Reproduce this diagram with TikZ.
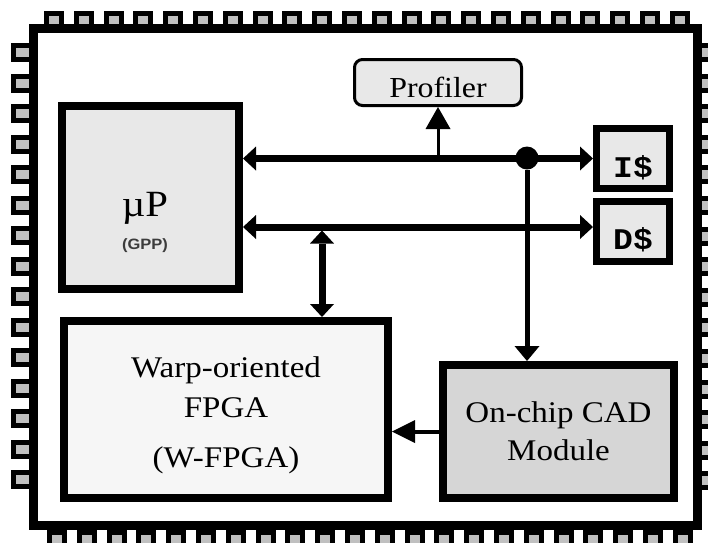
\documentclass[tikz,border=0pt]{standalone}
\usepackage{fontspec}
\setmainfont{Liberation Serif}[FakeStretch=1.1]
\newfontfamily\cachefont{Liberation Mono}[FakeStretch=1.1]
\newfontfamily\gppfont{Liberation Sans}[FakeStretch=1.1]
\usetikzlibrary{arrows.meta}
\definecolor{pingray}{RGB}{192,192,192}
\definecolor{boxgray}{RGB}{232,232,232}
\definecolor{fpgafill}{RGB}{246,246,246}
\definecolor{cadfill}{RGB}{214,214,214}
\definecolor{gppgray}{RGB}{60,60,60}

\begin{document}
\begin{tikzpicture}[x=1pt, y=-1pt,
        pin/.style={draw=black, fill=pingray, line width=5pt},
        block/.style={draw=black, line width=8pt, inner sep=0pt, align=center},
        cachebox/.style={draw=black, line width=7pt, fill=boxgray, inner sep=0pt,
            minimum width=73pt, minimum height=60pt, text height=37pt, text depth=0pt,
            font=\cachefont\bfseries\fontsize{30}{30}\selectfont},
        profbox/.style={draw=black, line width=3pt, rounded corners=8pt, fill=boxgray,
            inner sep=0pt, minimum width=167pt, minimum height=46pt,
            text height=29pt, text depth=0pt, font=\fontsize{29}{29}\selectfont},
        dot/.style={circle, fill=black, minimum size=23pt, inner sep=0pt},
        bus/.style={line width=7pt, >={Triangle[length=13pt,width=24pt,line width=0pt]}, <->},
        feed/.style={line width=5pt, -{Triangle[length=15pt,width=25pt,line width=0pt]}},
        probe/.style={line width=3pt, -{Triangle[length=22pt,width=25pt,line width=0pt]}},
        config/.style={line width=4pt, -{Triangle[length=23pt,width=23pt,line width=0pt]}}]
\useasboundingbox (0,0) rectangle (708,542);

% package pins
\foreach \i in {0,...,21} {
    \draw[pin] ({46.5+\i*29.8},13.5) rectangle +(15,20);
    \draw[pin] ({49.5+\i*29.8},532.5) rectangle +(15,20);
}
\foreach \i in {0,...,14} {
    \draw[pin] (13.5,{45.5+\i*30.5}) rectangle +(20,14);
    \draw[pin] (699.5,{45.5+\i*30.6}) rectangle +(20,14);
}
\draw[line width=9pt, fill=white] (33.5,28.5) rectangle (697.5,525.5);

% blocks
\node[block, fill=boxgray, minimum width=177pt, minimum height=183pt] (up) at (150.5,197.5) {};
\node[font=\fontsize{37}{37}\selectfont, anchor=base, inner sep=0pt] (uptext) at (145,216) {µP};
\node[font=\gppfont\bfseries\fontsize{15}{15}\selectfont, text=gppgray, anchor=base, inner sep=0pt]
    (gpptext) at (145,249) {(GPP)};
\node[cachebox] (ic) at (633,158.5) {I\$};
\node[cachebox] (dc) at (633,231) {D\$};
\node[profbox] (prof) at (438,82.5) {Profiler};
\node[block, fill=fpgafill, minimum width=324pt, minimum height=177pt,
    font=\fontsize{30}{40}\selectfont] (fpga) at (226,409.5)
    {\rule{0pt}{33pt}Warp-oriented\\FPGA\\[10pt](W-FPGA)};
\node[block, fill=cadfill, minimum width=231pt, minimum height=133pt,
    font=\fontsize{30}{38}\selectfont] (cad) at (558.5,431.5) {On-chip CAD\\Module};

% buses
\draw[bus] (up.east |- ic.west) -- (ic.west);
\draw[bus] ([yshift=4pt]dc.west -| up.east) -- ([yshift=4pt]dc.west);
\coordinate (busport) at (322,230.5);
\draw[bus] (busport) -- (busport |- fpga.north);
\draw[probe] (prof.south |- ic.west) -- (prof.south);
\node[dot] (tap) at (527,158) {};
\draw[feed] (tap) -- (tap |- cad.north);
\draw[config] (cad.west) -- (cad.west -| fpga.east);

\end{tikzpicture}
\end{document}
